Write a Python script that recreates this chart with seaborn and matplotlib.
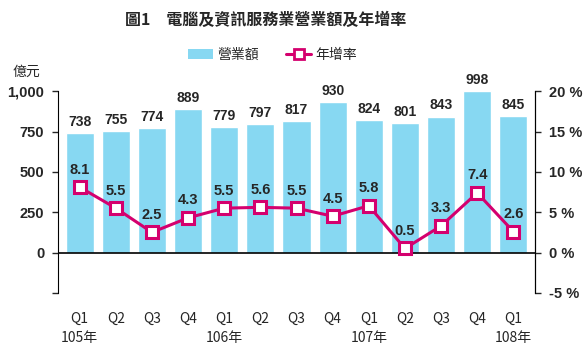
import numpy as np
import pandas as pd
import seaborn as sns
import matplotlib.pyplot as plt
from matplotlib.lines import Line2D
from matplotlib.patches import Patch

# data
quarters = ["Q1", "Q2", "Q3", "Q4", "Q1", "Q2", "Q3", "Q4", "Q1", "Q2", "Q3", "Q4", "Q1"]
years = {0: "105年", 4: "106年", 8: "107年", 12: "108年"}
revenue = [738, 755, 774, 889, 779, 797, 817, 930, 824, 801, 843, 998, 845]
growth = [8.1, 5.5, 2.5, 4.3, 5.5, 5.6, 5.5, 4.5, 5.8, 0.5, 3.3, 7.4, 2.6]

bar_color = "#87D8F2"
line_color = "#D4006E"

sns.set_style("white")
plt.rcParams['font.family'] = ['Liberation Sans', 'Noto Sans CJK TC', 'DejaVu Sans']
cjk = ['Noto Sans CJK TC', 'DejaVu Sans']

df = pd.DataFrame({"pos": range(len(revenue)), "revenue": revenue, "growth": growth})

fig = plt.figure(figsize=(5.86, 3.52), dpi=100)
ax = fig.add_axes([0.099, 0.168, 0.814, 0.573])
sns.barplot(data=df, x="pos", y="revenue", color=bar_color, width=0.78,
            saturation=1, ax=ax)
ax.set_ylim(-250, 1000)
ax.set_xlim(-0.6, 12.6)
ax.set_yticks([-250, 0, 250, 500, 750, 1000])
ax.set_yticklabels(["", "0", "250", "500", "750", "1,000"], fontweight="bold", fontsize=10.5)
ax.axhline(0, color="black", lw=1.2, zorder=3)
for s in ["top", "bottom"]:
    ax.spines[s].set_visible(False)
ax.spines["left"].set_color("black")
ax.spines["right"].set_color("black")
ax.tick_params(axis="y", length=4, width=1, direction="out", left=True, pad=6)
ax.set_xticks(range(len(quarters)))
ax.set_xticklabels(quarters, fontsize=10, family=cjk)
ax.tick_params(axis="x", length=0, pad=14)
ax.set_xlabel("")
ax.set_ylabel("")
for i, v in enumerate(revenue):
    ax.text(i, v + 25, f"{v}", ha="center", va="bottom", fontsize=10, fontweight="bold")
for i, y in years.items():
    ax.text(i, -0.19, y, transform=ax.get_xaxis_transform(), ha="center", va="top",
            fontsize=10, family=cjk)

ax2 = ax.twinx()
sns.lineplot(data=df, x="pos", y="growth", color=line_color, lw=2.2, marker="s",
             markersize=9, markerfacecolor="white", markeredgecolor=line_color,
             markeredgewidth=2.2, ax=ax2, zorder=5)
ax2.set_ylim(-5, 20)
ax2.set_yticks([-5, 0, 5, 10, 15, 20])
ax2.set_yticklabels([f"{t} %" for t in [-5, 0, 5, 10, 15, 20]], fontweight="bold", fontsize=10.5)
ax2.tick_params(axis="y", length=4, width=1, direction="out", right=True, pad=6)
for s in ["top", "bottom", "left"]:
    ax2.spines[s].set_visible(False)
ax2.spines["right"].set_color("black")
ax2.set_ylabel("")
ax2.set_xlabel("")
for i, g in enumerate(growth):
    ax2.text(i, g + 1.3, f"{g}", ha="center", va="bottom", fontsize=10.5, fontweight="bold")

fig.text(0.453, 0.945, "圖1　電腦及資訊服務業營業額及年增率", ha="center", va="center",
         fontsize=11.5, fontweight="bold", family=cjk)
fig.text(0.045, 0.795, "億元", ha="center", va="center", fontsize=10, family=cjk)

handles = [Patch(facecolor=bar_color, edgecolor="none"),
           Line2D([], [], color=line_color, lw=2.2, marker="s", markersize=7,
                  markerfacecolor="white", markeredgecolor=line_color, markeredgewidth=2)]
fig.legend(handles, ["營業額", "年增率"], loc="center", bbox_to_anchor=(0.465, 0.845), ncol=2,
           frameon=False, prop={"family": cjk, "size": 10},
           handlelength=1.8, columnspacing=2.0, handletextpad=0.3)

fig.savefig("out.png", dpi=100)
